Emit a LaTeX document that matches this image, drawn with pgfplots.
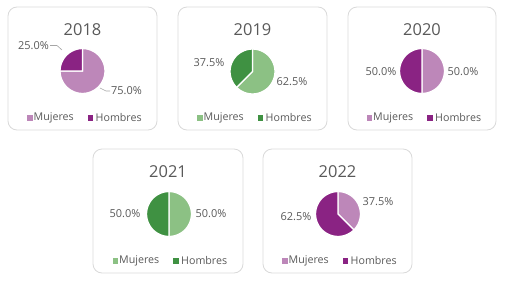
\documentclass[border=0pt]{standalone}
\usepackage{fontspec}
\setmainfont{Open Sans}
\usepackage{pgfplots}
\pgfplotsset{compat=1.18}
\definecolor{pinkL}{HTML}{BD87B9}
\definecolor{purpD}{HTML}{8A2383}
\definecolor{greenL}{HTML}{8CC184}
\definecolor{greenD}{HTML}{3F9142}
\definecolor{txt}{HTML}{595959}
\definecolor{frm}{HTML}{D9D9D9}
\definecolor{lead}{HTML}{A6A6A6}
\pgfplotsset{pie/.style={scale only axis, width=45bp, height=45bp,
  xmin=-1, xmax=1, ymin=-1, ymax=1, hide axis, clip=false, anchor=center}}
% slice from cumulative percent #1 to #2, clockwise from 12 o'clock
\newcommand{\slice}[3]{\addplot[fill=#3, draw=white, line width=1.4pt,
  domain={90-3.6*(#2)}:{90-3.6*(#1)}, samples=90]
  ({cos(x)},{sin(x)}) -- (axis cs:0,0) -- cycle;}
\newcommand{\legd}[4]{%
  \fill[#3] (#1-55.2,#2-2.8) rectangle ++(5.6,5.6);
  \node[anchor=west, inner sep=0pt, text=txt, font=\fontsize{10.7}{12}\selectfont] at (#1-49,#2) {Mujeres};
  \fill[#4] (#1+5.2,#2-2.8) rectangle ++(5.6,5.6);
  \node[anchor=west, inner sep=0pt, text=txt, font=\fontsize{10.7}{12}\selectfont] at (#1+13,#2) {Hombres};}
\newcommand{\ttl}[3]{\node[text=txt, inner sep=0pt, font=\fontsize{16.5}{19}\selectfont] at (#1,#2) {#3};}
\tikzset{lab/.style={text=txt, inner sep=0pt, font=\fontsize{11}{13}\selectfont}}
\begin{document}
\begin{tikzpicture}[x=1bp, y=1bp]
\path (0,0) rectangle (506,280);
% frames
\draw[frm, line width=0.8pt, rounded corners=9bp] (8,273) rectangle (157,150);
\draw[frm, line width=0.8pt, rounded corners=9bp] (178,273) rectangle (327,150);
\draw[frm, line width=0.8pt, rounded corners=9bp] (348,273) rectangle (496,150);
\draw[frm, line width=0.8pt, rounded corners=9bp] (93,131) rectangle (243,7);
\draw[frm, line width=0.8pt, rounded corners=9bp] (263,131) rectangle (412,7);
% 2018
\begin{axis}[pie, at={(82.5bp,209bp)}]
\slice{0}{75}{pinkL}
\slice{75}{100}{purpD}
\end{axis}
% 2019
\begin{axis}[pie, at={(252.5bp,208.5bp)}]
\slice{0}{62.5}{greenL}
\slice{62.5}{100}{greenD}
\end{axis}
% 2020
\begin{axis}[pie, at={(422bp,209bp)}]
\slice{0}{50}{pinkL}
\slice{50}{100}{purpD}
\end{axis}
% 2021
\begin{axis}[pie, at={(169bp,66bp)}]
\slice{0}{50}{greenL}
\slice{50}{100}{greenD}
\end{axis}
% 2022
\begin{axis}[pie, at={(338bp,66bp)}]
\slice{0}{37.5}{pinkL}
\slice{37.5}{100}{purpD}
\end{axis}
% titles
\ttl{82.5}{250}{2018}
\ttl{252.5}{250}{2019}
\ttl{422}{250}{2020}
\ttl{168}{108}{2021}
\ttl{337.5}{108}{2022}
% labels
\draw[lead, line width=0.6pt] (50,234.5) -- (57,234.5) -- (62,230);
\node[lab, anchor=east] at (49,234.5) {25.0\%};
\draw[lead, line width=0.6pt] (100,192) -- (106,189) -- (110,189);
\node[lab, anchor=west] at (111,189) {75.0\%};
\node[lab] at (209,217) {37.5\%};
\node[lab] at (292,198) {62.5\%};
\node[lab] at (381,208) {50.0\%};
\node[lab] at (463,208) {50.0\%};
\node[lab] at (125,66) {50.0\%};
\node[lab] at (211,66) {50.0\%};
\node[lab] at (378,78) {37.5\%};
\node[lab] at (296,63) {62.5\%};
% legends
\legd{82.5}{162}{pinkL}{purpD}
\legd{252.5}{162}{greenL}{greenD}
\legd{422}{162}{pinkL}{purpD}
\legd{168}{19.3}{greenL}{greenD}
\legd{337.5}{19.3}{pinkL}{purpD}
\end{tikzpicture}
\end{document}
